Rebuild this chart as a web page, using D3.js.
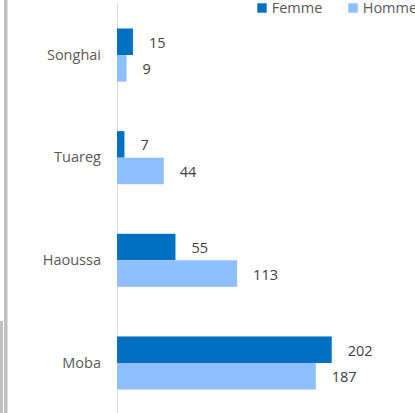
<!DOCTYPE html>
<html>
<head>
<meta charset="utf-8">
<script src="https://cdn.jsdelivr.net/npm/d3@7"></script>
<style>
  html, body { margin: 0; padding: 0; background: #fff; }
  svg { display: block; font-family: "Open Sans", sans-serif; }
</style>
</head>
<body>
<svg id="chart" width="415" height="413"></svg>
<script>
// Ethnic groups (top to bottom) and counts per sex
const groups = ["Songhai", "Tuareg", "Haoussa", "Moba"];
const femme = [15, 7, 55, 202];
const homme = [9, 44, 113, 187];
const seriesNames = ["Femme", "Homme"];
const seriesColors = ["#0070C0", "#8FBFFF"];

const svg = d3.select("#chart");
const W = 415, H = 413;

// left border strips of the frame
svg.append("rect").attr("x", 4).attr("y", 0).attr("width", 3.5).attr("height", H).attr("fill", "#BFBFBF");
svg.append("rect").attr("x", 0).attr("y", 321).attr("width", 3).attr("height", H - 321).attr("fill", "#BFBFBF");

const x = d3.scaleLinear().domain([0, 250]).range([117, 117 + 265.75]);
const y = d3.scaleBand().domain(groups).range([3.7, 414.3]).paddingInner(0.483).paddingOuter(0.2415);
const ySub = d3.scaleBand().domain(seriesNames).range([0, y.bandwidth()]);

// vertical category axis
const yAxis = d3.axisLeft(y).tickSize(0).tickPadding(16);
const gAxis = svg.append("g").attr("transform", `translate(${x(0)},0)`).call(yAxis);
gAxis.select(".domain").attr("stroke", "#D9D9D9").attr("stroke-width", 1)
  .attr("d", `M0.5,4V${H}`);
gAxis.selectAll("text")
  .attr("fill", "#595959")
  .style("font-size", "14.5px")
  .style("font-family", "'Open Sans', sans-serif");

const rows = groups.map((g, i) => ({ group: g, values: [femme[i], homme[i]] }));

const gGroups = svg.append("g").selectAll("g").data(rows).join("g")
  .attr("transform", d => `translate(0,${y(d.group)})`);

gGroups.selectAll("rect").data(d => d.values.map((v, k) => ({ v, k })))
  .join("rect")
  .attr("x", x(0))
  .attr("y", d => ySub(seriesNames[d.k]))
  .attr("width", d => x(d.v) - x(0))
  .attr("height", ySub.bandwidth())
  .attr("fill", d => seriesColors[d.k]);

gGroups.selectAll("text.val").data(d => d.values.map((v, k) => ({ v, k })))
  .join("text")
  .attr("class", "val")
  .attr("x", d => x(d.v) + 16)
  .attr("y", d => ySub(seriesNames[d.k]) + ySub.bandwidth() / 2 + 1)
  .attr("dy", "0.35em")
  .attr("fill", "#404040")
  .style("font-size", "14.5px")
  .text(d => d.v);

// legend
const legend = svg.append("g").selectAll("g").data(seriesNames).join("g")
  .attr("transform", (d, i) => `translate(${257.3 + i * 91},0)`);
legend.append("rect").attr("x", 0).attr("y", 3.3).attr("width", 9.4).attr("height", 9.4)
  .attr("fill", (d, i) => seriesColors[i]);
legend.append("text").attr("x", 14.4).attr("y", 8).attr("dy", "0.35em")
  .attr("fill", "#595959").style("font-size", "14.5px").text(d => d);
</script>
</body>
</html>
